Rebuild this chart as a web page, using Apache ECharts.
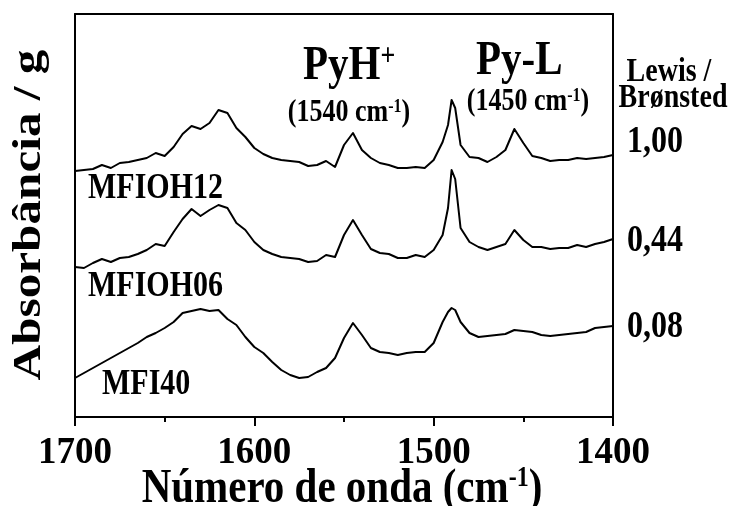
<!DOCTYPE html>
<html>
<head>
<meta charset="utf-8">
<script src="https://cdn.jsdelivr.net/npm/echarts@6/dist/echarts.min.js"></script>
<style>
  html, body { margin: 0; padding: 0; background: #fff; }
  #chart { width: 732px; height: 506px; }
</style>
</head>
<body>
<div id="chart"></div>
<script>
// numero de onda (cm-1)
const wavenumbers = [
  1700, 1695, 1690, 1685, 1680, 1675, 1670, 1665, 1660, 1655, 1650, 1645, 1640,
  1635, 1630, 1625, 1620, 1615, 1610, 1605, 1600, 1595, 1590, 1585, 1580, 1575,
  1570, 1565, 1560, 1555, 1550, 1545, 1540, 1535, 1530, 1525, 1520, 1515, 1510,
  1505, 1500, 1495, 1492, 1490, 1488, 1485, 1480, 1475, 1470, 1465, 1460, 1455,
  1450, 1445, 1440, 1435, 1430, 1425, 1420, 1415, 1410, 1405, 1400,
];

// absorbancia (u.a., espectros deslocados)
const mfioh12 = [
  2.46, 2.47, 2.48, 2.52, 2.49, 2.54, 2.55, 2.57, 2.59, 2.64, 2.61, 2.70, 2.83,
  2.91, 2.88, 2.94, 3.07, 3.04, 2.89, 2.80, 2.69, 2.63, 2.59, 2.57, 2.56, 2.55,
  2.51, 2.52, 2.56, 2.50, 2.72, 2.84, 2.67, 2.59, 2.54, 2.52, 2.49, 2.49, 2.50,
  2.49, 2.57, 2.75, 2.92, 3.17, 3.09, 2.72, 2.60, 2.59, 2.55, 2.60, 2.67, 2.88,
  2.74, 2.61, 2.59, 2.56, 2.57, 2.57, 2.59, 2.58, 2.59, 2.60, 2.62,
];
const mfioh06 = [
  1.50, 1.49, 1.54, 1.58, 1.55, 1.59, 1.60, 1.63, 1.67, 1.73, 1.71, 1.85, 1.98,
  2.08, 2.01, 2.07, 2.12, 2.09, 1.94, 1.87, 1.75, 1.67, 1.63, 1.60, 1.59, 1.58,
  1.55, 1.56, 1.62, 1.60, 1.82, 1.97, 1.82, 1.68, 1.64, 1.63, 1.59, 1.59, 1.62,
  1.60, 1.67, 1.82, 2.09, 2.47, 2.38, 1.89, 1.75, 1.70, 1.67, 1.70, 1.73, 1.87,
  1.77, 1.70, 1.70, 1.68, 1.69, 1.69, 1.72, 1.70, 1.73, 1.75, 1.78,
];
const mfi40 = [
  0.39, 0.44, 0.49, 0.54, 0.59, 0.64, 0.69, 0.74, 0.80, 0.84, 0.89, 0.95, 1.04,
  1.06, 1.08, 1.06, 1.07, 0.98, 0.92, 0.80, 0.70, 0.64, 0.55, 0.47, 0.42, 0.39,
  0.40, 0.45, 0.49, 0.59, 0.79, 0.94, 0.82, 0.69, 0.65, 0.64, 0.62, 0.64, 0.65,
  0.65, 0.74, 0.95, 1.05, 1.09, 1.07, 0.95, 0.84, 0.80, 0.81, 0.82, 0.83, 0.87,
  0.86, 0.85, 0.82, 0.81, 0.82, 0.83, 0.84, 0.85, 0.89, 0.90, 0.91,
];

const sampleNames = ["MFIOH12", "MFIOH06", "MFI40"];
const lewisBronsted = ["1,00", "0,44", "0,08"];

const serif = "'Liberation Serif', 'Times New Roman', serif";
const black = "#000";
const stretch = 1.2; // o texto da figura original esta esticado na vertical

function pairs(values) {
  return wavenumbers.map((w, i) => [w, values[i]]);
}

function label(text, x, y, size, align) {
  return {
    type: "text",
    x: x,
    y: y,
    scaleY: stretch,
    style: {
      text: text,
      fontSize: size,
      fontWeight: "bold",
      fontFamily: serif,
      fill: black,
      align: align || "left",
      textAlign: align || "left",
      verticalAlign: "middle",
      textVerticalAlign: "middle",
    },
  };
}

// texto com expoente (rich)
function supLabel(main, sup, tail, x, y, size, supSize, align) {
  const base = { fontSize: size, fontWeight: "bold", fontFamily: serif, fill: black };
  return {
    type: "text",
    x: x,
    y: y,
    scaleY: stretch,
    style: {
      text: "{m|" + main + "}{s|" + sup + "}" + (tail ? "{m|" + tail + "}" : ""),
      rich: {
        m: base,
        s: Object.assign({}, base, { fontSize: supSize, verticalAlign: "top" }),
      },
      align: align || "left",
      textAlign: align || "left",
      verticalAlign: "middle",
      textVerticalAlign: "middle",
    },
  };
}

const boxLine = { show: true, onZero: false, lineStyle: { color: black, width: 2 } };

// titulo do eixo y, girado: o esticamento fica no eixo local x
const yTitle = label("Absorbância / g", 29, 215, 41, "center");
yTitle.rotation = Math.PI / 2;
yTitle.scaleY = 1;
yTitle.scaleX = stretch;

const option = {
  animation: false,
  backgroundColor: "#fff",
  grid: { left: 75, right: 119, top: 14, bottom: 89 },
  xAxis: [
    {
      type: "value",
      min: 1400,
      max: 1700,
      interval: 100,
      inverse: true,
      position: "bottom",
      axisLine: boxLine,
      axisTick: { show: true, length: 9, lineStyle: { color: black, width: 2 } },
      minorTick: { show: true, splitNumber: 2, length: 5, lineStyle: { color: black, width: 2 } },
      splitLine: { show: false },
      axisLabel: {
        fontSize: 37,
        fontWeight: "bold",
        fontFamily: serif,
        color: black,
        margin: 18,
        formatter: (v) => String(v),
      },
    },
    {
      type: "value",
      min: 1400,
      max: 1700,
      inverse: true,
      position: "top",
      axisLine: boxLine,
      axisTick: { show: false },
      axisLabel: { show: false },
      splitLine: { show: false },
    },
  ],
  yAxis: [
    {
      type: "value",
      min: 0,
      max: 4.03,
      position: "left",
      axisLine: boxLine,
      axisTick: { show: false },
      axisLabel: { show: false },
      splitLine: { show: false },
    },
    {
      type: "value",
      min: 0,
      max: 4.03,
      position: "right",
      axisLine: boxLine,
      axisTick: { show: false },
      axisLabel: { show: false },
      splitLine: { show: false },
    },
  ],
  series: [mfioh12, mfioh06, mfi40].map((vals, i) => ({
    name: sampleNames[i],
    type: "line",
    xAxisIndex: 0,
    yAxisIndex: 0,
    showSymbol: false,
    smooth: false,
    lineStyle: { color: black, width: 2, join: "round" },
    data: pairs(vals),
  })),
  graphic: [
    yTitle,
    supLabel("Número de onda (cm", "-1", ")", 342, 489, 41, 24, "center"),
    supLabel("PyH", "+", "", 303, 66, 41, 26),
    supLabel("(1540 cm", "-1", ")", 349, 113, 26, 16, "center"),
    label("Py-L", 476, 61, 41),
    supLabel("(1450 cm", "-1", ")", 528, 102, 26, 16, "center"),
    label("Lewis /", 669, 72, 28, "center"),
    label("Brønsted", 673, 98, 28, "center"),
    label(lewisBronsted[0], 655, 142, 32, "center"),
    label(lewisBronsted[1], 655, 241, 32, "center"),
    label(lewisBronsted[2], 655, 327, 32, "center"),
    label(sampleNames[0], 88, 189, 30),
    label(sampleNames[1], 88, 287, 30),
    label(sampleNames[2], 102, 385, 30),
  ],
};

const chart = echarts.init(document.getElementById("chart"));
chart.setOption(option);
</script>
</body>
</html>
